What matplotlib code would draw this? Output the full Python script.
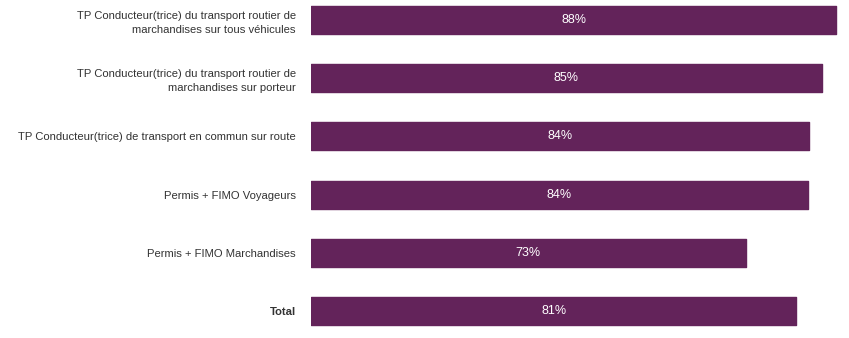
import matplotlib
matplotlib.use("Agg")
from matplotlib import pyplot as plt

# data
categories = [
    "TP Conducteur(trice) du transport routier de\nmarchandises sur tous véhicules",
    "TP Conducteur(trice) du transport routier de\nmarchandises sur porteur",
    "TP Conducteur(trice) de transport en commun sur route",
    "Permis + FIMO Voyageurs",
    "Permis + FIMO Marchandises",
    "Total",
]
values = [88.0, 85.5, 83.4, 83.2, 72.8, 81.3]
value_labels = ["88%", "85%", "84%", "84%", "73%", "81%"]

bar_color = "#63235a"
text_color = "#333333"

plt.rcParams['font.family'] = ['Liberation Sans', 'DejaVu Sans']

fig = plt.figure(figsize=(8.49, 3.38), dpi=100)
ax = fig.add_axes([311 / 849, 0, 1 - 311 / 849, 1])

y = list(range(len(categories)))
bars = ax.barh(y, values, height=0.48, color=bar_color, edgecolor=bar_color,
               linewidth=1.0)
for b in bars:
    b.set_joinstyle('round')

for yi, v, lab in zip(y, values, value_labels):
    ax.text(v / 2, yi, lab, ha='center', va='center', color='white',
            fontsize=9)

ax.set_xlim(0, 90.1)
ax.set_ylim(5.464, -0.344)
ax.set_yticks(y)
ax.set_yticklabels(categories, fontsize=8.15, color=text_color,
                   linespacing=1.5)
ax.get_yticklabels()[-1].set_fontweight('bold')
ax.tick_params(axis='y', length=0, pad=11)
ax.set_xticks([])
for s in ax.spines.values():
    s.set_visible(False)

fig.savefig("out.png", dpi=100)
